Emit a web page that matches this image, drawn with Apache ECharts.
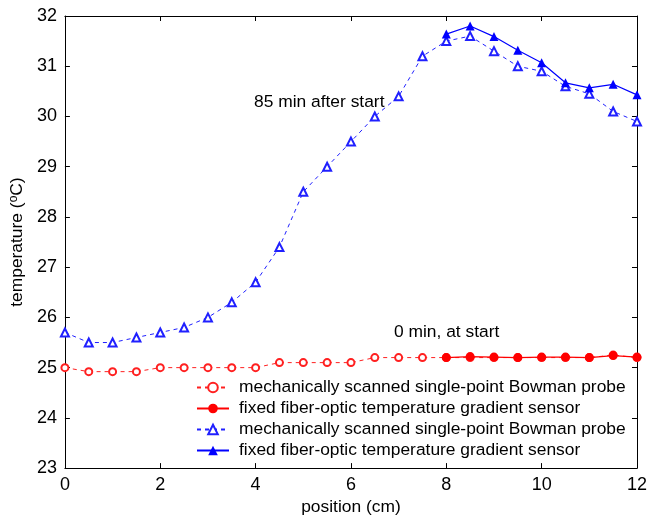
<!DOCTYPE html>
<html>
<head>
<meta charset="utf-8">
<script src="https://cdn.jsdelivr.net/npm/echarts@6/dist/echarts.min.js"></script>
<style>html,body{margin:0;padding:0;background:#fff}#c{width:650px;height:521px}</style>
</head>
<body>
<div id="c"></div>
<script>
// Data
var positions = [0,0.5,1,1.5,2,2.5,3,3.5,4,4.5,5,5.5,6,6.5,7,7.5,8,8.5,9,9.5,10,10.5,11,11.5,12];
var fiberPositions = [8,8.5,9,9.5,10,10.5,11,11.5,12];
var redProbe = [25.0,24.92,24.92,24.92,25.0,25.0,25.0,25.0,25.0,25.1,25.1,25.1,25.1,25.2,25.2,25.2,25.2,25.2,25.2,25.2,25.2,25.2,25.2,25.25,25.2];
var redFiber = [25.2,25.22,25.21,25.2,25.21,25.21,25.2,25.24,25.21];
var blueProbe = [25.7,25.5,25.5,25.6,25.7,25.8,26.0,26.3,26.7,27.4,28.5,29.0,29.5,30.0,30.4,31.2,31.5,31.6,31.3,31.0,30.9,30.6,30.45,30.1,29.9];
var blueFiber = [31.64,31.8,31.59,31.32,31.07,30.67,30.57,30.64,30.43];
var seriesNames = ['mechanically scanned single-point Bowman probe','fixed fiber-optic temperature gradient sensor','mechanically scanned single-point Bowman probe ','fixed fiber-optic temperature gradient sensor '];
var annotations = ['85 min after start','0 min, at start'];
var xTicks = {min:0,max:12,interval:2};
var yTicks = {min:23,max:32,interval:1};

function pairs(xs, ys){ return xs.map(function(x,i){return [x, ys[i]];}); }

var font = 'Arial, "Liberation Sans", sans-serif';
var fs = 17.4;
var chart = echarts.init(document.getElementById('c'));
var axisCommon = {
  axisLine:{show:true,onZero:false,lineStyle:{color:'#000',width:1}},
  axisTick:{show:true,inside:true,length:5,lineStyle:{color:'#000'}},
  splitLine:{show:false}
};
chart.setOption({
  animation:false,
  backgroundColor:'#fff',
  grid:{left:64,right:6,top:16,bottom:49,containLabel:false},
  xAxis:[
    Object.assign({type:'value',position:'bottom',min:xTicks.min,max:xTicks.max,interval:xTicks.interval,
      name:'position (cm)',nameLocation:'middle',nameGap:30,
      nameTextStyle:{fontFamily:font,fontSize:fs,color:'#000'},
      axisLabel:{fontFamily:font,fontSize:18,color:'#000',margin:8}},axisCommon),
    Object.assign({type:'value',position:'top',min:xTicks.min,max:xTicks.max,interval:xTicks.interval,
      axisLabel:{show:false}},axisCommon)
  ],
  yAxis:[
    Object.assign({type:'value',position:'left',min:yTicks.min,max:yTicks.max,interval:yTicks.interval,
      name:'{a|temperature (}{s|o}{a|C)}',nameLocation:'middle',nameGap:35,nameRotate:90,
      nameTextStyle:{fontFamily:font,fontSize:fs,color:'#000',
        rich:{a:{fontFamily:font,fontSize:fs,color:'#000'},s:{fontFamily:font,fontSize:12,color:'#000',verticalAlign:'top',padding:[0,0,7,0]}}},
      axisLabel:{fontFamily:font,fontSize:18,color:'#000',margin:8}},axisCommon),
    Object.assign({type:'value',position:'right',min:yTicks.min,max:yTicks.max,interval:yTicks.interval,
      axisLabel:{show:false}},axisCommon)
  ],
  legend:{
    orient:'vertical',left:196,top:379,padding:0,itemWidth:32,itemHeight:12,itemGap:4,
    textStyle:{fontFamily:font,fontSize:fs,color:'#000',padding:[0,0,0,5]},
    backgroundColor:'transparent',
    data:seriesNames
  },
  graphic:[
    {type:'text',left:254,top:94,style:{text:annotations[0],font:fs+'px '+font,fill:'#000'}},
    {type:'text',left:394,top:324,style:{text:annotations[1],font:fs+'px '+font,fill:'#000'}}
  ],
  series:[
    {name:seriesNames[0],type:'line',data:pairs(positions,redProbe),symbol:'emptyCircle',symbolSize:7,
      lineStyle:{color:'#ff2020',width:1,type:[4,4]},itemStyle:{color:'#ff2020',borderWidth:1}},
    {name:seriesNames[1],type:'line',data:pairs(fiberPositions,redFiber),symbol:'circle',symbolSize:9,
      lineStyle:{color:'#ff0000',width:1.2,type:'solid'},itemStyle:{color:'#ff0000'}},
    {name:seriesNames[2],type:'line',data:pairs(positions,blueProbe),symbol:'emptyTriangle',symbolSize:8,
      lineStyle:{color:'#2020ff',width:1,type:[4,4]},itemStyle:{color:'#2020ff',borderWidth:1}},
    {name:seriesNames[3],type:'line',data:pairs(fiberPositions,blueFiber),symbol:'triangle',symbolSize:9,
      lineStyle:{color:'#0000ff',width:1.2,type:'solid'},itemStyle:{color:'#0000ff'}}
  ]
});
</script>
</body>
</html>
